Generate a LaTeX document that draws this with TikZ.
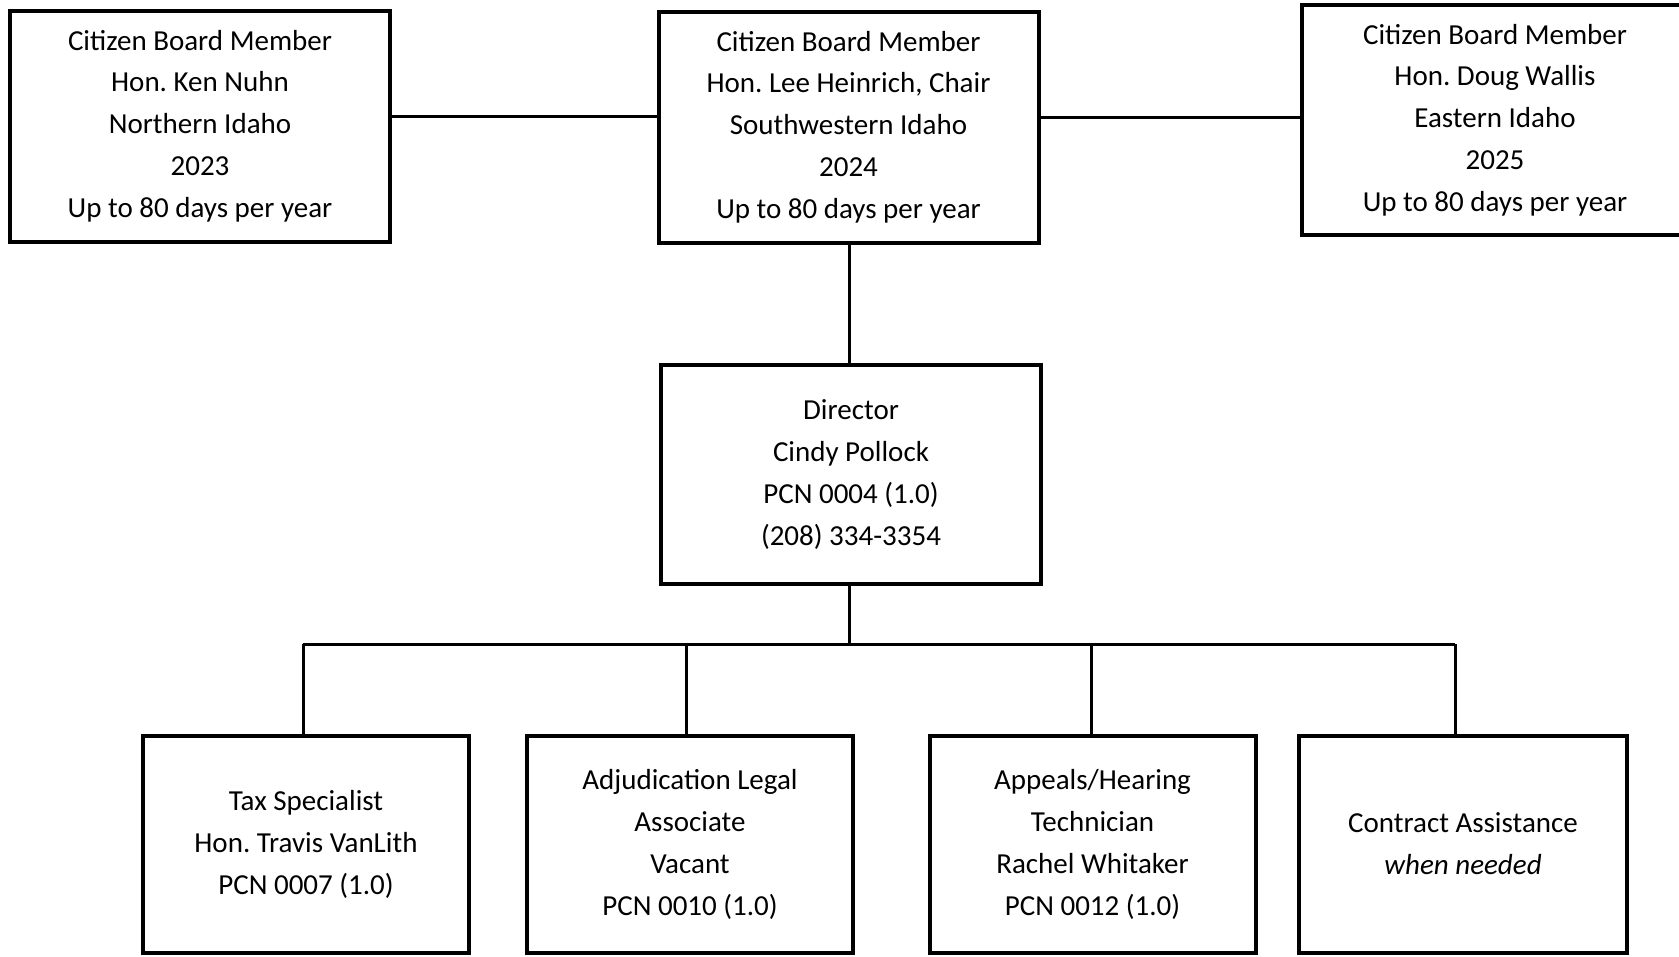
\documentclass[tikz,border=0pt]{standalone}
\usepackage{fontspec}
\setmainfont{Carlito}
\frenchspacing
\tikzset{
  unit/.style={draw, line width=4pt, align=center, inner sep=0pt,
    font=\fontsize{29}{41.8}\selectfont},
  board/.style={unit, minimum width=380pt, minimum height=231pt},
  staff/.style={unit, minimum width=326pt, minimum height=217pt},
  link/.style={line width=3pt}
}
\begin{document}
\begin{tikzpicture}[x=1pt, y=-1pt]
        \useasboundingbox (0,0) rectangle (1679,956);
        % board
        \node[board] (north) at (200,126) {Citizen Board Member\\Hon. Ken Nuhn\\Northern Idaho\\2023\\Up to 80 days per year};
        \node[board] (chair) at (848.5,127) {Citizen Board Member\\Hon. Lee Heinrich, Chair\\Southwestern Idaho\\2024\\Up to 80 days per year};
        \node[board, minimum width=386pt, minimum height=230pt] (east) at (1495,120) {Citizen Board Member\\Hon. Doug Wallis\\Eastern Idaho\\2025\\Up to 80 days per year};
        % director
        \node[board, minimum height=219pt] (dir) at (851,474.5) {Director\\Cindy Pollock\\PCN 0004 (1.0)\\(208) 334-3354};
        % staff
        \node[staff] (tax) at (306,844.5) {Tax Specialist\\Hon. Travis VanLith\\PCN 0007 (1.0)};
        \node[staff] (legal) at (690,844.5) {Adjudication Legal\\Associate\\Vacant\\PCN 0010 (1.0)};
        \node[staff] (appeal) at (1092.5,844.5) {Appeals/Hearing\\Technician\\Rachel Whitaker\\PCN 0012 (1.0)};
        \node[staff, minimum width=328pt] (contract) at (1463,844) {Contract Assistance\\\textit{when needed}};
        
        \coordinate (bus) at (849,644);
        
        \draw[link] (north.east |- 0,116) -- (chair.west |- 0,116);
        \draw[link] (chair.east |- 0,117) -- (east.west |- 0,117);
        \draw[link] (chair.south -| bus) -- (dir.north -| bus);
        \draw[link] (dir.south -| bus) -- (bus);
        \draw[link] ([xshift=-3pt]tax.north |- bus) -- ([xshift=-8pt]contract.north |- bus);
        \draw[link] ([xshift=-3pt]tax.north) -- ([xshift=-3pt]tax.north |- bus);
        \draw[link] ([xshift=-4pt]legal.north) -- ([xshift=-4pt]legal.north |- bus);
        \draw[link] ([xshift=-1.5pt]appeal.north) -- ([xshift=-1.5pt]appeal.north |- bus);
        \draw[link] ([xshift=-8pt]contract.north) -- ([xshift=-8pt]contract.north |- bus);
      \end{tikzpicture}
\end{document}
